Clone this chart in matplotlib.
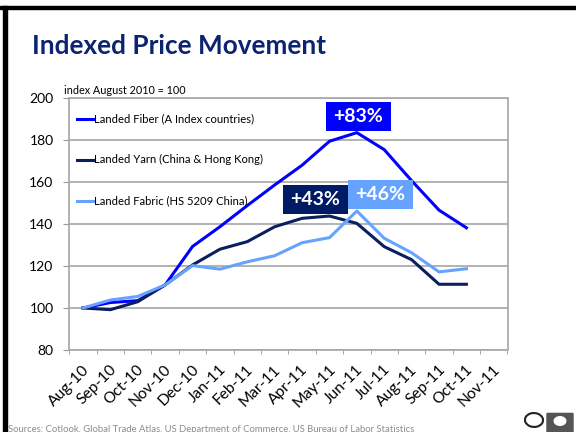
import matplotlib.pyplot as plt
import matplotlib.transforms as mtransforms
from matplotlib.patches import Rectangle, FancyBboxPatch, Ellipse
from matplotlib.lines import Line2D

months = ['Aug-10', 'Sep-10', 'Oct-10', 'Nov-10', 'Dec-10', 'Jan-11', 'Feb-11', 'Mar-11',
          'Apr-11', 'May-11', 'Jun-11', 'Jul-11', 'Aug-11', 'Sep-11', 'Oct-11', 'Nov-11']

fiber = [100, 102.6, 103.5, 111, 129.3, 138.7, 148.8, 158.6, 168, 179.4, 183.5, 175.4, 160.6, 146.6, 138.2]
yarn = [100, 99.2, 103, 111, 120.5, 128, 131.6, 138.7, 142.7, 143.8, 140.3, 129.2, 123, 111.3, 111.3]
fabric = [100, 103.8, 105.5, 111, 120.2, 118.5, 122, 124.9, 131.1, 133.5, 146.2, 133.2, 126.3, 117.2, 118.7]

series_names = ['Landed Fiber (A Index countries)', 'Landed Yarn (China & Hong Kong)',
                'Landed Fabric (HS 5209 China)']
colors = ['#0000FF', '#0A1F5E', '#66A3FF']

# change labels: text, x (category index), y (value)
callouts = ['+83%', '+43%', '+46%']
callout_x = [10.05, 8.48, 10.85]
callout_y = [191.2, 151.8, 154.2]
callout_colors = [colors[0], '#001A66', colors[2]]

FONT = ['Lato', 'DejaVu Sans']
plt.rcParams['font.family'] = FONT

fig = plt.figure(figsize=(5.76, 4.32), dpi=100)
W, H = 576, 432

def fx(px):
    return px / W

def fy(py):
    return 1 - py / H

# slide frame
fig.patches.append(Rectangle((0, fy(9)), 1, fy(6) - fy(9), transform=fig.transFigure,
                             color='black', zorder=0))
fig.patches.append(Rectangle((fx(3), 0), fx(4), fy(6), transform=fig.transFigure,
                             color='black', zorder=0))

fig.text(fx(32), fy(46), 'Indexed Price Movement', fontsize=18.8, fontweight='bold',
         color='#0B2370', va='center', ha='left')

ax = fig.add_axes([fx(69.3), fy(350), fx(507.5) - fx(69.3), fy(98) - fy(350)])
x = list(range(len(fiber)))
ax.plot(x, fiber, color=colors[0], lw=2.2)
ax.plot(x, yarn, color=colors[1], lw=2.2)
ax.plot(x, fabric, color=colors[2], lw=2.2)

ax.set_xlim(-0.5, len(months) - 0.5)
ax.set_ylim(80, 200)
ax.set_yticks(range(80, 201, 20))
ax.tick_params(axis='y', labelsize=10, length=4.3, color='#999999', pad=7)
ax.set_xticks(range(len(months)))
ax.set_xticklabels(months, rotation=45, ha='right', rotation_mode='anchor', fontsize=11.2)
ax.tick_params(axis='x', which='major', length=0, pad=9)
shift = mtransforms.ScaledTranslation(-1 / 100, 0, fig.dpi_scale_trans)
for lab in ax.get_xticklabels():
    lab.set_transform(lab.get_transform() + shift)
ax.set_xticks([i - 0.5 for i in range(len(months) + 1)], minor=True)
ax.tick_params(axis='x', which='minor', length=3, color='#999999')
ax.grid(axis='y', color='#A6A6A6', lw=1.2)
ax.set_axisbelow(True)
for s in ax.spines.values():
    s.set_color('#A6A6A6')
    s.set_linewidth(1.2)

fig.text(fx(64), fy(91), 'index August 2010 = 100', fontsize=7.8, va='center', ha='left')

# legend rows
leg_y = [190, 170.5, 151]
for name, c, yv in zip(series_names, colors, leg_y):
    ax.add_line(Line2D([-0.22, 0.40], [yv, yv], color=c, lw=2.2))
    ax.text(0.40, yv, name, fontsize=8.1, va='center', ha='left')

# percentage labels
bw, bh = 65 / 27.4, 29 / 2.1
for txt, xc, yc, c in zip(callouts, callout_x, callout_y, callout_colors):
    ax.add_patch(Rectangle((xc - bw / 2, yc - bh / 2), bw, bh, fc=c, ec='none', zorder=5))
    ax.text(xc, yc, txt, fontsize=14, fontweight='bold', color='white', ha='center', va='center',
            zorder=6)

fig.text(fx(8), fy(429), 'Sources: Cotlook, Global Trade Atlas, US Department of Commerce, US Bureau of Labor Statistics',
         fontsize=6.8, color='#8C8C8C', va='center', ha='left')

# small logo marks
fig.patches.append(FancyBboxPatch((fx(548), fy(432)), fx(24), fy(414) - fy(432), transform=fig.transFigure,
                                  boxstyle='round,pad=0.003', fc='#555555', ec='none'))
fig.patches.append(Ellipse((fx(560), fy(421)), fx(13), fy(0) - fy(10), transform=fig.transFigure,
                           fc='white', ec='none'))
fig.patches.append(Ellipse((fx(534), fy(420)), fx(18), fy(0) - fy(14), transform=fig.transFigure,
                           fc='white', ec='#222222', lw=1.5, angle=20))

fig.savefig('out.png', dpi=100)
